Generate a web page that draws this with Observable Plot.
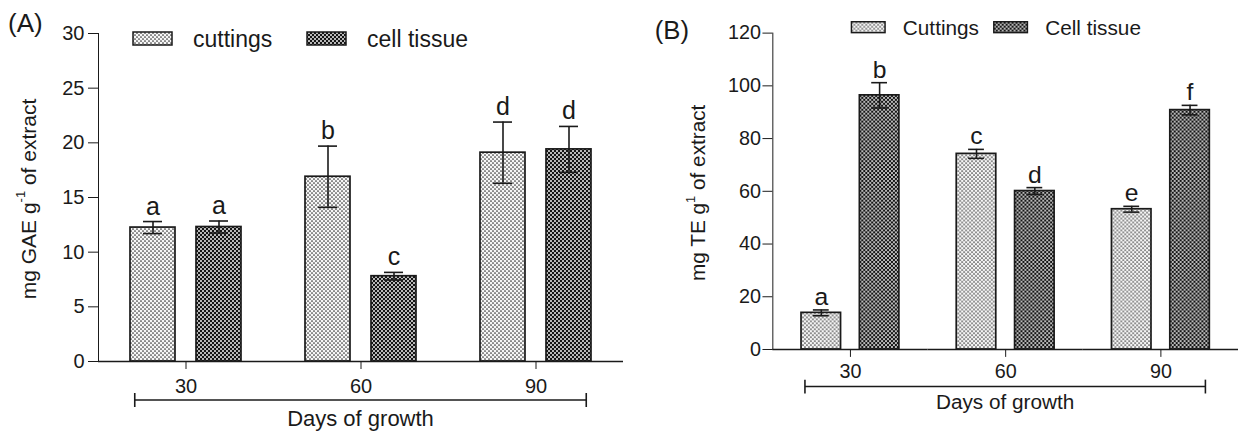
<!DOCTYPE html>
<html>
<head>
<meta charset="utf-8">
<script src="https://cdn.jsdelivr.net/npm/d3@7"></script>
<script src="https://cdn.jsdelivr.net/npm/@observablehq/plot@0.6"></script>
<style>
  html, body { margin: 0; padding: 0; background: #fff; overflow: hidden; }
  #wrap { position: relative; width: 1238px; height: 431px; overflow: hidden; background: #fff; }
  #panelA { position: absolute; left: 0; top: 0; }
  #panelB { position: absolute; left: 628px; top: 0; }
</style>
</head>
<body>
<svg width="0" height="0" style="position:absolute">
  <defs>
    <pattern id="patCut" width="4" height="4" patternUnits="userSpaceOnUse">
      <rect width="4" height="4" fill="#f6f6f6"></rect>
      <circle cx="1" cy="1" r="0.85" fill="#333"></circle>
      <circle cx="3" cy="3" r="0.85" fill="#333"></circle>
    </pattern>
    <pattern id="patCell" width="4" height="4" patternUnits="userSpaceOnUse">
      <rect width="4" height="4" fill="#151515"></rect>
      <circle cx="1" cy="1" r="0.95" fill="#fff"></circle>
      <circle cx="3" cy="3" r="0.95" fill="#fff"></circle>
    </pattern>
  </defs>
</svg>
<div id="wrap">
  <div id="panelA"></div>
  <div id="panelB"></div>
</div>
<script>
// ---------- data ----------
const days = [30, 60, 90];

// Panel A: total phenolics (mg GAE g-1 of extract)
const seriesA = ["cuttings", "cell tissue"];
const aCuttings = [12.25, 16.9, 19.1];
const aCuttingsErr = [0.55, 2.8, 2.8];
const aCuttingsLetters = ["a", "b", "d"];
const aCell = [12.3, 7.8, 19.4];
const aCellErr = [0.55, 0.35, 2.1];
const aCellLetters = ["a", "c", "d"];
const yTicksA = [0, 5, 10, 15, 20, 25, 30];

// Panel B: antioxidant (mg TE g-1 of extract)
const seriesB = ["Cuttings", "Cell tissue"];
const bCuttings = [13.9, 74.2, 53.2];
const bCuttingsErr = [1.1, 1.7, 1.1];
const bCuttingsLetters = ["a", "c", "e"];
const bCell = [96.4, 60.1, 90.8];
const bCellErr = [4.8, 1.3, 1.8];
const bCellLetters = ["b", "d", "f"];
const yTicksB = [0, 20, 40, 60, 80, 100, 120];

const patterns = ["url(#patCut)", "url(#patCell)"];
const FONT = "'Liberation Sans', Arial, Helvetica, sans-serif";
const INK = "#1a1a1a";

function rows(series, vals, errs, letters) {
  const out = [];
  series.forEach((s, si) => {
    days.forEach((d, di) => {
      out.push({day: d, series: s, value: vals[si][di], err: errs[si][di], letter: letters[si][di]});
    });
  });
  return out;
}

const dataA = rows(seriesA, [aCuttings, aCell], [aCuttingsErr, aCellErr], [aCuttingsLetters, aCellLetters]);
const dataB = rows(seriesB, [bCuttings, bCell], [bCuttingsErr, bCellErr], [bCuttingsLetters, bCellLetters]);

function makePanel(cfg) {
  const plot = Plot.plot({
    width: cfg.width,
    height: 431,
    marginTop: 33,
    marginBottom: cfg.marginBottom,
    marginLeft: cfg.marginLeft,
    marginRight: cfg.marginRight,
    style: {fontFamily: FONT, fontSize: "20px", color: INK, background: "white", overflow: "visible"},
    fx: {padding: 0, tickSize: 8, tickPadding: cfg.fxPad, label: null, axis: "bottom"},
    x: {axis: null, domain: cfg.series, paddingInner: 0.32, paddingOuter: 0.47},
    y: {domain: cfg.yDomain, ticks: cfg.yTicks, tickSize: 10, tickPadding: cfg.yPad, label: null, line: true},
    color: {domain: cfg.series, range: patterns},
    marks: [
      Plot.barY(cfg.data, {fx: "day", x: "series", y: "value", fill: "series", stroke: INK, strokeWidth: 1.7}),
      Plot.ruleX(cfg.data, {fx: "day", x: "series", y1: d => d.value - d.err, y2: d => d.value + d.err, stroke: INK, strokeWidth: 1.6}),
      Plot.tickY(cfg.data, {fx: "day", x: "series", y: d => d.value + d.err, stroke: INK, strokeWidth: 1.6, inset: cfg.capInset}),
      Plot.tickY(cfg.data, {fx: "day", x: "series", y: d => d.value - d.err, stroke: INK, strokeWidth: 1.6, inset: cfg.capInset}),
      Plot.text(cfg.data, {fx: "day", x: "series", y: d => d.value + d.err, text: "letter", lineAnchor: "bottom", dy: cfg.letterDy, fontSize: 25, fill: INK}),
      Plot.ruleY([0], {stroke: INK, strokeWidth: 1.6})
    ]
  });

  const svg = d3.select(plot);
  const y0 = 431 - cfg.marginBottom;

  // panel tag
  svg.append("text").attr("x", cfg.tagX).attr("y", cfg.tagY)
    .attr("text-anchor", "start")
    .attr("font-size", 26).attr("fill", INK).attr("font-family", FONT)
    .text(cfg.tag);

  // y label with superscript
  const yl = svg.append("text")
    .attr("transform", `translate(${cfg.yLabelX},${cfg.yLabelY}) rotate(-90)`)
    .attr("text-anchor", "middle").attr("dominant-baseline", "middle")
    .attr("font-size", 21).attr("fill", INK).attr("font-family", FONT);
  yl.append("tspan").text(cfg.yLabel[0]);
  yl.append("tspan").attr("dy", -8).attr("font-size", 13).text(cfg.yLabel[1]);
  yl.append("tspan").attr("dy", 8).text(cfg.yLabel[2]);

  // bracket under the category axis
  const fx = plot.scale("fx");
  const c0 = fx.apply(days[0]) + fx.bandwidth / 2;
  const c1 = fx.apply(days[days.length - 1]) + fx.bandwidth / 2;
  const bx0 = c0 - 0.29 * fx.step, bx1 = c1 + 0.29 * fx.step;
  const by = y0 + cfg.bracketDy;
  const g = svg.append("g").attr("stroke", INK).attr("stroke-width", 1.6);
  g.append("line").attr("x1", bx0).attr("x2", bx1).attr("y1", by).attr("y2", by);
  g.append("line").attr("x1", bx0).attr("x2", bx0).attr("y1", by - 7).attr("y2", by + 7);
  g.append("line").attr("x1", bx1).attr("x2", bx1).attr("y1", by - 7).attr("y2", by + 7);
  svg.append("text").attr("x", (bx0 + bx1) / 2).attr("y", y0 + cfg.xLabelDy)
    .attr("text-anchor", "middle").attr("font-size", cfg.xLabelSize).attr("fill", INK).attr("font-family", FONT)
    .text("Days of growth");

  // legend
  const L = cfg.legend;
  cfg.series.forEach((s, i) => {
    svg.append("rect").attr("x", L.boxX[i]).attr("y", L.boxY).attr("width", L.boxW).attr("height", L.boxH)
      .attr("fill", patterns[i]).attr("stroke", INK).attr("stroke-width", 1.5);
    svg.append("text").attr("x", L.textX[i]).attr("y", L.boxY + L.boxH / 2)
      .attr("text-anchor", "start")
      .attr("dominant-baseline", "central").attr("font-size", L.size).attr("fill", INK).attr("font-family", FONT)
      .text(s);
  });
  return plot;
}

document.getElementById("panelA").appendChild(makePanel({
  width: 628, marginLeft: 98, marginRight: 5, marginBottom: 70,
  series: seriesA, data: dataA, yDomain: [0, 30], yTicks: yTicksA, yPad: 4, fxPad: 9,
  capInset: 13, letterDy: -7,
  tag: "(A)", tagX: 8, tagY: 32,
  yLabel: ["mg GAE g", "-1", " of extract"], yLabelX: 30, yLabelY: 199,
  bracketDy: 39, xLabelDy: 65, xLabelSize: 22,
  legend: {boxX: [133, 307], boxY: 32, boxW: 39, boxH: 13, textX: [193, 367], size: 23}
}));

document.getElementById("panelB").appendChild(makePanel({
  width: 617, marginLeft: 146, marginRight: 0, marginBottom: 78,
  series: seriesB, data: dataB, yDomain: [0, 120], yTicks: yTicksB, yPad: 2, fxPad: 7,
  capInset: 12, letterDy: -5,
  tag: "(B)", tagX: 27, tagY: 39,
  yLabel: ["mg TE g", "1", " of extract"], yLabelX: 73, yLabelY: 195,
  bracketDy: 38, xLabelDy: 61, xLabelSize: 21,
  legend: {boxX: [226, 370], boxY: 22, boxW: 34, boxH: 11, textX: [278, 422], size: 21}
}));
</script>
</body>
</html>
